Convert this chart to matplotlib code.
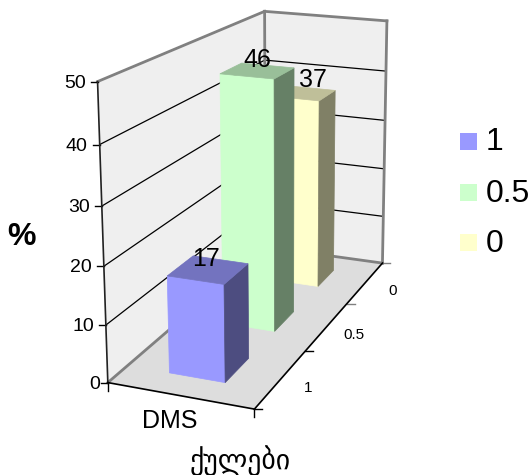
import numpy as np
import matplotlib
matplotlib.use("Agg")
import matplotlib.pyplot as plt

plt.rcParams["font.family"] = ["Liberation Sans", "DejaVu Sans"]

# data
SERIES = ["1", "0.5", "0"]
VALUES = [17, 46, 37]
Z_TICKS = [0, 10, 20, 30, 40, 50]
CATEGORY = "DMS"
X_TITLE = "ქულები"
Y_TITLE = "%"

FACE_COLORS = ["#9999FF", "#CCFFCC", "#FFFFCC"]
TOP_COLORS = ["#7373BF", "#99BF99", "#BFBF99"]
SIDE_COLORS = ["#4D4D80", "#668066", "#808066"]

# cube points (u, v, z) and where they land in the picture
CUBE = [(0, 0, 0), (1, 0, 0), (1, 1, 0), (0, 1, 0), (0, 0, 1), (0, 1, 1), (1, 1, 1),
        (0, 0, 0.2), (0, 0, 0.4), (0, 0, 0.6), (0, 0, 0.8),
        (1, 1, 0.2), (1, 1, 0.4), (1, 1, 0.6), (1, 1, 0.8)]
PIXELS = [(108, 385), (253, 406), (383, 264), (265, 243), (98, 80), (264, 13), (387, 20),
          (106, 327), (104, 267), (102, 205), (100, 145),
          (384, 219), (384.5, 169), (385, 121), (385.5, 70)]
Z_MAX = 50


def fit_projection(cube, pixels):
    rows = []
    rhs = []
    for (u, v, w), (px, py) in zip(cube, pixels):
        rows.append([u, v, w, 1, 0, 0, 0, 0, -px * u, -px * v, -px * w])
        rhs.append(px)
        rows.append([0, 0, 0, 0, u, v, w, 1, -py * u, -py * v, -py * w])
        rhs.append(py)
    m = np.linalg.lstsq(np.array(rows, float), np.array(rhs, float), rcond=None)[0]
    return np.append(m, 1).reshape(3, 4)


PROJ = fit_projection(CUBE, PIXELS)


def project(u, v, z):
    # z is in chart units
    p = PROJ @ np.array([u, v, z / Z_MAX, 1.0])
    return p[0] / p[2], p[1] / p[2]


fig = plt.figure(figsize=(5.32, 4.75), dpi=100)
ax = fig.add_axes([0, 0, 1, 1])
ax.set_xlim(0, 532)
ax.set_ylim(475, 0)
ax.axis("off")


def face(points, color, zorder):
    ax.fill(*zip(*[project(*p) for p in points]), facecolor=color,
            edgecolor=color, linewidth=0.5, zorder=zorder)


def line(a, b, color="black", lw=1.0, zorder=2):
    pa, pb = project(*a), project(*b)
    ax.plot([pa[0], pb[0]], [pa[1], pb[1]], color=color, lw=lw,
            solid_capstyle="projecting", zorder=zorder)


# walls and floor
face([(0, 0, 0), (0, 1, 0), (0, 1, 50), (0, 0, 50)], "#EFEFEF", 1)
face([(0, 1, 0), (1, 1, 0), (1, 1, 50), (0, 1, 50)], "#EFEFEF", 1)
face([(0, 0, 0), (1, 0, 0), (1, 1, 0), (0, 1, 0)], "#DDDDDD", 1)

for t in Z_TICKS[1:-1]:
    line((0, 0, t), (0, 1, t), lw=0.9)
    line((0, 1, t), (1, 1, t), lw=0.9)

GRAY = "#808080"
line((0, 0, 50), (0, 1, 50), GRAY, 2)
line((0, 1, 50), (1, 1, 50), GRAY, 2)
line((0, 1, 0), (0, 1, 50), GRAY, 2)
line((1, 1, 0), (1, 1, 50), GRAY, 2)
line((0, 0, 0), (0, 1, 0), GRAY, 2)
line((0, 1, 0), (1, 1, 0), GRAY, 2)

# bars, back row first
U0, U1 = 0.30, 0.69
ROW_V = [(0.10, 0.245), (0.42, 0.56), (0.755, 0.89)]
LABEL_SHIFT = [(-2, -4), (0, -4), (10, -6)]
for i in [2, 1, 0]:
    h = VALUES[i]
    v0, v1 = ROW_V[i]
    z = 5 + (2 - i)
    face([(U0, v0, 0), (U1, v0, 0), (U1, v0, h), (U0, v0, h)], FACE_COLORS[i], z)
    face([(U1, v0, 0), (U1, v1, 0), (U1, v1, h), (U1, v0, h)], SIDE_COLORS[i], z)
    face([(U0, v0, h), (U1, v0, h), (U1, v1, h), (U0, v1, h)], TOP_COLORS[i], z)
    x, y = project((U0 + U1) / 2, (v0 + v1) / 2, h)
    dx, dy = LABEL_SHIFT[i]
    ax.text(x + dx, y + dy, str(h), ha="center", va="baseline", fontsize=18,
            color="black", zorder=10)

# axis lines and ticks
line((0, 0, 0), (0, 0, 50), "#222222", 1.2, 3)
line((0, 0, 0), (1, 0, 0), "black", 1.2, 3)
line((1, 0, 0), (1, 1, 0), "black", 1.2, 3)

for t in Z_TICKS:
    x, y = project(0, 0, t)
    ax.plot([x - 7, x], [y, y], color="black", lw=1)
    ax.text(x - (8 if t == 0 else 12), y + 1.5, str(t), ha="right", va="center", fontsize=14)

for u in [0, 1]:
    x, y = project(u, 0, 0)
    ax.plot([x, x], [y, y + 8], color="black", lw=1)

for k in range(4):
    x, y = project(1, k / 3, 0)
    ax.plot([x, x + 8], [y, y], color="black" if k < 2 else GRAY, lw=1)

for k, label in enumerate(SERIES):
    x, y = project(1, (k + 0.5) / 3, 0)
    ax.text(x + 27, y + 9, label, ha="center", va="center", fontsize=11)

ax.text(170, 421, CATEGORY, ha="center", va="center", fontsize=18)
ax.text(240, 461, X_TITLE, ha="center", va="center", fontsize=20)
ax.text(22, 237, Y_TITLE, ha="center", va="center", fontsize=23, fontweight="bold")

# legend
LEGEND_Y = [141.5, 192.5, 242.5]
for label, color, y in zip(SERIES, FACE_COLORS, LEGEND_Y):
    ax.add_patch(plt.Rectangle((460, y - 8.5), 17, 17, facecolor=color, edgecolor="none"))
    ax.text(486, y + 1, label, ha="left", va="center", fontsize=23)

fig.savefig("out.png", dpi=100)
plt.close(fig)
